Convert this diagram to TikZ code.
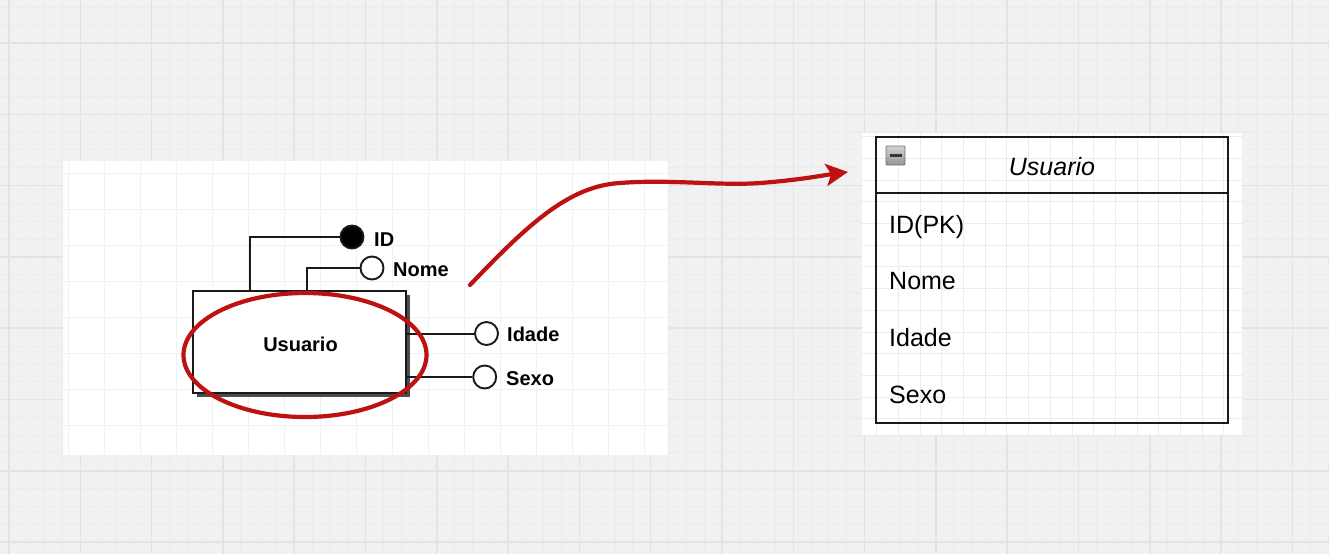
\documentclass[tikz,border=0pt]{standalone}
\usepackage{fontspec}
\setmainfont{Liberation Sans}
\usetikzlibrary{arrows.meta}
\definecolor{bgc}{HTML}{F1F1F1}
\definecolor{minorc}{HTML}{EBEBEB}
\definecolor{majorc}{HTML}{E3E3E3}
\definecolor{bluegrid}{HTML}{EDF2FA}
\definecolor{rgrid}{HTML}{ECECEC}
\definecolor{redpen}{HTML}{BE1212}
\definecolor{ink}{HTML}{1A1A1A}
\tikzset{
  minorline/.style={draw=minorc, line width=1},
  majorline/.style={draw=majorc, line width=1.5},
  bluegridline/.style={draw=bluegrid, line width=1.6},
  rgridline/.style={draw=rgrid, line width=1},
  attr/.style={circle, draw=ink, line width=1.9, fill=white, minimum size=23, inner sep=0},
  keyattr/.style={attr, fill=black},
  conn/.style={draw=ink, line width=2},
  lbl/.style={inner sep=0, font=\fontsize{20}{24}\selectfont\bfseries, text=black},
  rowtext/.style={inner sep=0, anchor=base west, font=\fontsize{25}{30}\selectfont, text=black},
  redmark/.style={draw=redpen, line width=4.2, line cap=round},
}
\begin{document}
\begin{tikzpicture}[x=1pt,y=-1pt]
\useasboundingbox (0,0) rectangle (1329,554);
\fill[bgc] (0,0) rectangle (1329,554);
% outer grid
\foreach \k in {0,...,74} {\pgfmathsetmacro\xx{9+17.825*\k}\draw[minorline] (\xx,0) -- (\xx,554);}
\foreach \k in {-2,...,29} {\pgfmathsetmacro\yy{43+17.825*\k}\draw[minorline] (0,\yy) -- (1329,\yy);}
\foreach \k in {0,...,18} {\pgfmathsetmacro\xx{9+71.3*\k}\draw[majorline] (\xx,0) -- (\xx,554);}
\foreach \k in {0,...,7} {\pgfmathsetmacro\yy{43+71.3*\k}\draw[majorline] (0,\yy) -- (1329,\yy);}
% left panel
\fill[white] (62.5,161) rectangle (668,455);
\foreach \k in {0,...,16} {\pgfmathsetmacro\xx{68.3+36*\k}\draw[bluegridline] (\xx,161) -- (\xx,455);}
\foreach \k in {0,...,7} {\pgfmathsetmacro\yy{173.3+36*\k}\draw[bluegridline] (62.5,\yy) -- (668,\yy);}
% right panel
\fill[white] (862,133) rectangle (1242,435);
\foreach \k in {0,...,16} {\pgfmathsetmacro\xx{876.7+21.7*\k}\draw[rgridline] (\xx,133) -- (\xx,435);}
\foreach \k in {0,...,13} {\pgfmathsetmacro\yy{136.7+21.7*\k}\draw[rgridline] (862,\yy) -- (1242,\yy);}

% ---- left ER entity ----
\fill[black!70] (196.5,294.5) rectangle (409.5,396.5);
\node[draw=ink, line width=1.9, fill=white, minimum width=213, minimum height=102, inner sep=0] (ent) at (299.5,342) {};
\node[lbl, anchor=base] (entlbl) at (300.5,351) {Usuario};

\node[keyattr] (id) at (352,237) {};
\node[attr] (nome) at (372,268) {};
\node[attr] (idade) at (486.5,333.5) {};
\node[attr] (sexo) at (484.7,377) {};

\coordinate (cid) at (250,291);
\coordinate (cnome) at (307,291);
\coordinate (cidade) at (406,333.5);
\coordinate (csexo) at (406,377);
\draw[conn] (cid) |- (id);
\draw[conn] (cnome) |- (nome);
\draw[conn] (cidade) -- (idade);
\draw[conn] (csexo) -- (sexo);

\node[lbl, anchor=base west] (lid) at (374,246) {ID};
\node[lbl, anchor=base west] (lnome) at (393,276) {Nome};
\node[lbl, anchor=base west] (lidade) at (507,341.7) {Idade};
\node[lbl, anchor=base west] (lsexo) at (506,385) {Sexo};

% ---- right table ----
\node[draw=ink, line width=2.2, minimum width=352, minimum height=286, inner sep=0] (tbl) at (1052,280) {};
\coordinate (dl) at (876,193);
\coordinate (dr) at (1228,193);
\draw[draw=ink, line width=2.2] (dl) -- (dr);
\shade[top color=black!18, bottom color=black!42, draw=black!55, line width=0.8, rounded corners=1] (886,146) rectangle (905,165);
\coordinate (ml) at (889.5,155.5);
\coordinate (mr) at (901.5,155.5);
\draw[black!80, line width=2.4] (ml) -- (mr);
\node[inner sep=0, anchor=base, font=\fontsize{25}{30}\selectfont\itshape, text=black] (thead) at (1052,175) {Usuario};
\node[rowtext] (r1) at (889,233.3) {ID(PK)};
\node[rowtext] (r2) at (889,289.3) {Nome};
\node[rowtext] (r3) at (889,346.7) {Idade};
\node[rowtext] (r4) at (889,403.3) {Sexo};

% ---- red annotations ----
\coordinate (ec) at (305,355);
\draw[redmark] (ec) ellipse [x radius=121.5, y radius=62];
\coordinate (as) at (470,285);
\coordinate (am) at (620,183);
\coordinate (am2) at (760,183);
\coordinate (ae) at (848,172);
\draw[redmark, -{Stealth[length=22pt, width=22pt, inset=5pt]}]
  (as) .. controls (530,222) and (570,186) .. (am)
       .. controls (670,179) and (720,186) .. (am2)
       .. controls (800,180) and (825,175) .. (ae);
\end{tikzpicture}
\end{document}
